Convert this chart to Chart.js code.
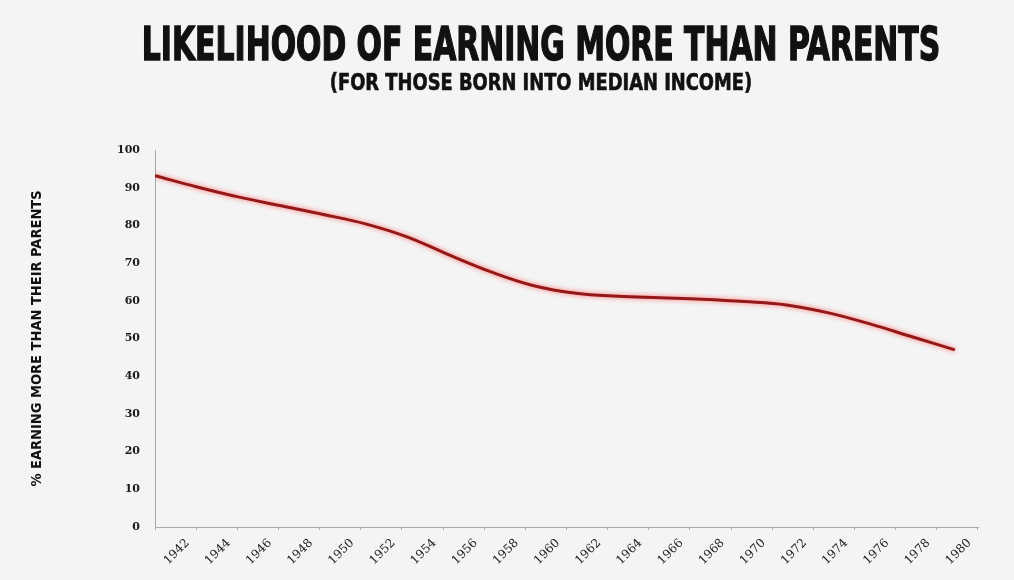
<!DOCTYPE html>
<html>
<head>
<meta charset="utf-8">
<title>Likelihood of earning more than parents</title>
<script src="https://cdn.jsdelivr.net/npm/chart.js@4.4.1/dist/chart.umd.min.js"></script>
<style type="text/css">
body { margin: 0; background: #f4f4f4; }
#wrap { position: relative; width: 1014px; height: 580px; overflow: hidden; }
.head {
	position: absolute; left: 541px; white-space: nowrap; color: #111;
	font-family: "DejaVu Sans Condensed", "DejaVu Sans", sans-serif; font-weight: bold;
	transform-origin: center top;
}
#title { top: 21px; font-size: 46px; line-height: 46px; -webkit-text-stroke: 1.4px #111; }
#sub { top: 71px; font-size: 23px; line-height: 23px; -webkit-text-stroke: 0.6px #111; }
</style>
</head>
<body>
<div id="wrap">
	<div class="head" id="title" data-w="798">LIKELIHOOD OF EARNING MORE THAN PARENTS</div>
	<div class="head" id="sub" data-w="422">(FOR THOSE BORN INTO MEDIAN INCOME)</div>
	<canvas id="chart" width="1014" height="580"></canvas>
</div>

<script type="text/javascript">

// birth year cohorts and share (%) earning more than their parents
var years = [1942, 1944, 1946, 1948, 1950, 1952, 1954, 1956, 1958, 1960,
	1962, 1964, 1966, 1968, 1970, 1972, 1974, 1976, 1978, 1980];
var share = [93.2, 90.2, 87.5, 85.2, 82.9, 80.4, 76.9, 72.1, 67.6, 64.0,
	62.0, 61.2, 60.8, 60.4, 59.8, 58.9, 56.8, 53.8, 50.4, 47.0];
var yTicks = [0, 10, 20, 30, 40, 50, 60, 70, 80, 90, 100];

// squeeze the headings to the width of the condensed face
document.querySelectorAll('.head').forEach(function (el) {
	var s = Number(el.dataset.w) / el.offsetWidth;
	el.style.transform = 'translateX(-50%) scaleX(' + s + ')';
});

var glow = {
	id: 'glow',
	beforeDatasetsDraw: function (chart) {
		var ctx = chart.ctx;
		ctx.save();
		ctx.shadowColor = 'rgba(255,60,60,0.75)';
		ctx.shadowBlur = 5;
	},
	afterDatasetsDraw: function (chart) {
		chart.ctx.restore();
	}
};

var points = years.map(function (y, i) { return { x: y, y: share[i] }; });

var ctx = document.getElementById('chart').getContext('2d');
window.chart = new Chart(ctx, {
	type: 'line',
	data: {
		labels: years.map(String),
		datasets: [{
			data: points,
			xAxisID: 'xl',
			borderColor: '#941818',
			borderWidth: 3,
			pointRadius: 0,
			tension: 0.4,
			fill: false
		}]
	},
	options: {
		responsive: false,
		animation: false,
		layout: { padding: { top: 150, right: 36, left: 0, bottom: 0 } },
		plugins: { legend: { display: false }, tooltip: { enabled: false } },
		scales: {
			x: {
				type: 'category',
				offset: true,
				afterFit: function (s) { s.height = 53; },
				border: { color: '#aaa', width: 1 },
				grid: { offset: true, drawOnChartArea: false, tickLength: 3, color: '#aaa' },
				ticks: {
					autoSkip: false, minRotation: 45, maxRotation: 45,
					labelOffset: 12, padding: 6, color: '#222',
					font: { family: 'DejaVu Serif', size: 12 }
				}
			},
			xl: {
				type: 'linear',
				display: false,
				min: 1942,
				max: 1981.1
			},
			y: {
				min: 0,
				max: 100,
				afterFit: function (s) { s.width = 155; },
				afterBuildTicks: function (s) { s.ticks = yTicks.map(function (v) { return { value: v }; }); },
				border: { color: '#aaa', width: 1 },
				grid: { drawOnChartArea: false, drawTicks: false },
				ticks: { padding: 15, color: '#1a1a1a', font: { family: 'DejaVu Serif', size: 11, weight: 'bold' } },
				title: {
					display: true,
					text: '% EARNING MORE THAN THEIR PARENTS',
					color: '#111',
					padding: { top: 29 },
					font: { family: 'DejaVu Sans Condensed', weight: 'bold', size: 14.5 }
				}
			}
		}
	},
	plugins: [glow]
});

</script>
</body>
</html>
